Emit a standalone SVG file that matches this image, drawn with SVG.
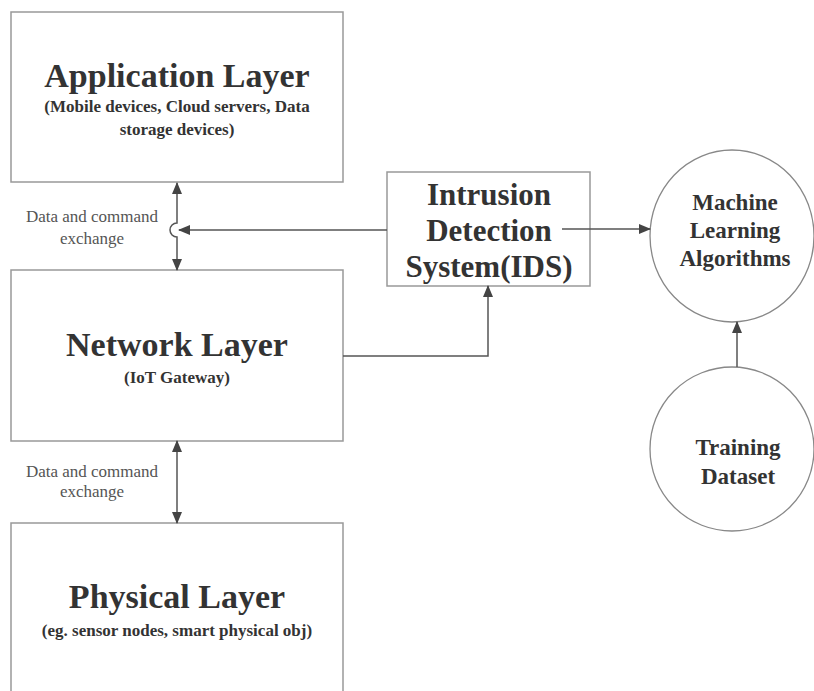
<svg xmlns="http://www.w3.org/2000/svg" width="814" height="691" viewBox="0 0 814 691">
<defs>
<marker id="ah" markerWidth="12" markerHeight="10" refX="11" refY="5" orient="auto-start-reverse" markerUnits="userSpaceOnUse">
<path d="M0,0 L12,5 L0,10 Z" fill="#444"/>
</marker>
<style>
.box{fill:#fff;stroke:#999;stroke-width:1.5}
.circ{fill:#fff;stroke:#888;stroke-width:1.3}
.t{font-family:'Liberation Serif','DejaVu Serif',serif;font-weight:bold;fill:#333;text-anchor:middle}
.lbl{font-family:'Liberation Serif','DejaVu Serif',serif;fill:#555;font-size:17px;text-anchor:middle}
.ln{fill:none;stroke:#555;stroke-width:1.5}
</style>
</defs>
<rect width="814" height="691" fill="#fff"/>
<g id="app">
<rect class="box" x="11" y="12" width="332" height="170"/>
<text class="t" x="177" y="87" font-size="34">Application Layer</text>
<text class="t" x="177" y="112" font-size="17">(Mobile devices, Cloud servers, Data</text>
<text class="t" x="177" y="135" font-size="17">storage devices)</text>
</g>
<g id="network">
<rect class="box" x="11" y="270" width="332" height="171"/>
<text class="t" x="177" y="356" font-size="34">Network Layer</text>
<text class="t" x="177" y="383" font-size="17">(IoT Gateway)</text>
</g>
<g id="physical">
<rect class="box" x="11" y="523" width="332" height="180"/>
<text class="t" x="177" y="608" font-size="34">Physical Layer</text>
<text class="t" x="177" y="636" font-size="17">(eg. sensor nodes, smart physical obj)</text>
</g>
<g id="ids">
<rect class="box" x="387" y="172" width="203" height="114"/>
<text class="t" x="489" y="205" font-size="31">Intrusion</text>
<text class="t" x="489" y="241" font-size="31">Detection</text>
<text class="t" x="489" y="277" font-size="31">System(IDS)</text>
</g>
<g id="ml">
<ellipse class="circ" cx="732" cy="236" rx="82" ry="86"/>
<text class="t" x="735" y="210" font-size="23">Machine</text>
<text class="t" x="735" y="238" font-size="23">Learning</text>
<text class="t" x="735" y="266" font-size="23">Algorithms</text>
</g>
<g id="training">
<circle class="circ" cx="732" cy="449" r="82"/>
<text class="t" x="738" y="455" font-size="23">Training</text>
<text class="t" x="738" y="484" font-size="23">Dataset</text>
</g>
<g id="connectors">
<path class="ln" d="M177,183 L177,223 A7,7 0 0 0 177,237 L177,270" marker-start="url(#ah)" marker-end="url(#ah)"/>
<path class="ln" d="M387,230 L179,230" marker-end="url(#ah)"/>
<path class="ln" d="M177,441 L177,523" marker-start="url(#ah)" marker-end="url(#ah)"/>
<path class="ln" d="M343,356 L488,356 L488,286" marker-end="url(#ah)"/>
<path class="ln" d="M562,229 L650,229" marker-end="url(#ah)"/>
<path class="ln" d="M737,367 L737,322" marker-end="url(#ah)"/>
<text class="lbl" x="92" y="222">Data and command</text>
<text class="lbl" x="92" y="244">exchange</text>
<text class="lbl" x="92" y="477">Data and command</text>
<text class="lbl" x="92" y="497">exchange</text>
</g>
</svg>
